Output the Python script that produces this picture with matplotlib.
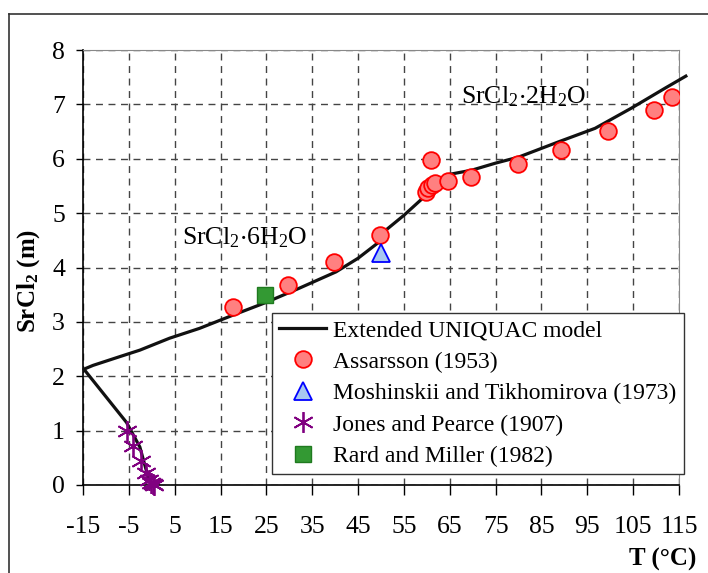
import matplotlib
matplotlib.use("Agg")
import matplotlib.pyplot as plt
from matplotlib.lines import Line2D

plt.rcParams['font.family'] = ['Liberation Serif', 'DejaVu Serif']
plt.rcParams['mathtext.fontset'] = 'custom'
plt.rcParams['mathtext.rm'] = 'Liberation Serif'
plt.rcParams['mathtext.bf'] = 'Liberation Serif:bold'
plt.rcParams['axes.unicode_minus'] = False

# Modell (Extended UNIQUAC): Eisast, dann Hexahydrat/Dihydrat
model_T = [-0.2, -1.0, -2.6, -5.5, -14.8, -12.8, -7.0, -2.6, 3.9, 10.4, 17.6, 25.0,
           32.2, 40.2, 45.0, 49.6, 51.1, 55.0, 59.3, 62.0, 64.1, 69.8, 75.0, 80.0,
           88.7, 96.7, 104.6, 112.0, 116.5]
model_m = [0.0, 0.21, 0.70, 1.15, 2.13, 2.20, 2.36, 2.48, 2.70, 2.88, 3.12, 3.36,
           3.62, 3.92, 4.17, 4.47, 4.69, 4.96, 5.29, 5.55, 5.70, 5.79, 5.92, 6.03,
           6.31, 6.56, 6.93, 7.30, 7.52]

ass_T = [17.8, 29.8, 39.8, 49.8, 59.8, 60.2, 61.1, 61.7, 60.9, 64.6, 69.6, 79.8,
         89.3, 99.6, 109.6, 113.5]
ass_m = [3.27, 3.68, 4.10, 4.60, 5.39, 5.46, 5.51, 5.55, 5.97, 5.59, 5.66, 5.90,
         6.16, 6.51, 6.89, 7.13]

mosh_T = [50.0]
mosh_m = [4.26]

jones_T = [-5.5, -4.0, -2.3, -1.2, -0.6, -0.2, 0.2, 0.5]
jones_m = [1.0, 0.72, 0.45, 0.22, 0.10, 0.04, 0.01, 0.0]

rard_T = [24.8]
rard_m = [3.49]

xticks = list(range(-15, 116, 10))
yticks = list(range(0, 9))

fig = plt.figure(figsize=(7.08, 5.73), dpi=100)
ax = fig.add_axes([0.1172, 0.1536, 0.8418, 0.7591])

ax.plot(model_T, model_m, color='#111111', lw=2.3, clip_on=False, zorder=3,
        label='Extended UNIQUAC model')
ax.plot(ass_T, ass_m, 'o', ms=12, mfc='#ff8080', mec='#ff0000', mew=1.3,
        zorder=4, label='Assarsson (1953)')
ax.plot(mosh_T, mosh_m, '^', ms=12.5, mfc='#a8c8f0', mec='#0000ff', mew=1.3,
        zorder=4, label='Moshinskii and Tikhomirova (1973)')
ax.plot(jones_T, jones_m, ls='none', marker=(6, 2, 0), ms=15, mec='#800080',
        mew=1.3, clip_on=False, zorder=5, label='Jones and Pearce (1907)')
ax.plot(rard_T, rard_m, 's', ms=11.5, mfc='#339933', mec='#1f7a1f', mew=1.0,
        zorder=4, label='Rard and Miller (1982)')

ax.set_xlim(-15, 115)
ax.set_ylim(0, 8)
ax.set_xticks(xticks)
ax.set_yticks(yticks)
ax.grid(True, ls=(0, (5, 4)), color='#444444', lw=1.0)
ax.set_axisbelow(True)

ax.tick_params(axis='x', direction='out', length=7, width=1, pad=15, labelsize=18.5)
ax.tick_params(axis='y', direction='out', length=5, width=1, pad=8, labelsize=18.5)
ax.spines['top'].set_color('#888888')
ax.spines['right'].set_color('#888888')
ax.spines['left'].set_linewidth(1.2)
ax.spines['bottom'].set_linewidth(1.2)

ax.text(6.7, 4.43, r'$\mathregular{SrCl_2{\cdot}6H_2O}$', fontsize=18.5, zorder=6)
ax.text(67.4, 7.02, r'$\mathregular{SrCl_2{\cdot}2H_2O}$', fontsize=18.5, zorder=6)

ax.set_ylabel(r'$\mathbf{SrCl_2}$ (m)', fontsize=18, fontweight='bold')
ax.yaxis.set_label_coords(-0.068, 0.47)
ax.set_xlabel('T (°C)', fontsize=18, fontweight='bold', ha='right', va='center')
ax.xaxis.set_label_coords(1.03, -0.172)

leg = ax.legend(loc='lower left', bbox_to_anchor=(0.317, 0.025), borderaxespad=0,
                fontsize=17, frameon=True, fancybox=False, framealpha=1,
                edgecolor='#333333', handlelength=2.0, handletextpad=0.3,
                labelspacing=0.42, borderpad=0.3, numpoints=1)
leg.get_frame().set_linewidth(1.0)

# Rahmen um die Grafik
fig.add_artist(Line2D([9 / 708, 9 / 708], [0, 1 - 14 / 573], color='#333333', lw=1.2))
fig.add_artist(Line2D([9 / 708, 1], [1 - 14 / 573, 1 - 14 / 573], color='#333333', lw=1.2))

fig.savefig('out.png', dpi=100)
